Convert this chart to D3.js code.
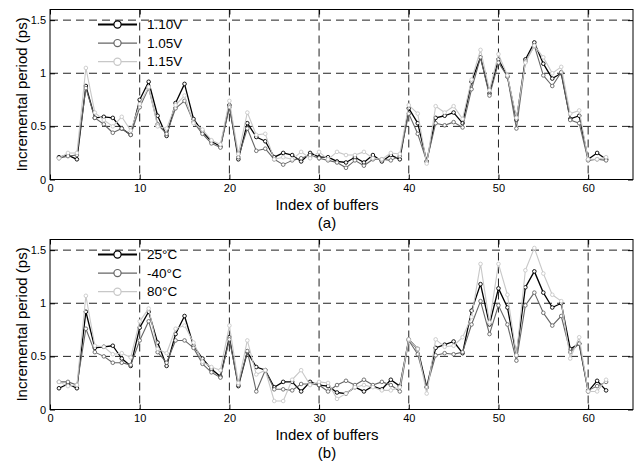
<!DOCTYPE html>
<html>
<head>
<meta charset="utf-8">
<script src="https://cdn.jsdelivr.net/npm/d3@7"></script>
<style>
  html, body { margin: 0; padding: 0; background: #fff; }
  svg { display: block; font-family: "Liberation Sans", Arial, sans-serif; }
</style>
</head>
<body>
<svg id="chart" width="641" height="462"></svg>
<script>
// Buffer indices (x axis) and tick labels
const bufferIndex = d3.range(1, 63);
const xTicks = [0, 10, 20, 30, 40, 50, 60];
const yTicks = [0, 0.5, 1, 1.5];
const yTickLabels = ["0", "0.5", "1", "1.5"];

// (a) supply voltage sweep, incremental period in ps
const v110 = [0.21,0.23,0.19,0.88,0.58,0.59,0.58,0.48,0.42,0.75,
              0.92,0.60,0.41,0.72,0.90,0.57,0.45,0.36,0.31,0.70,
              0.19,0.53,0.40,0.36,0.21,0.25,0.23,0.17,0.25,0.21,
              0.21,0.17,0.16,0.21,0.16,0.23,0.17,0.23,0.19,0.67,
              0.53,0.17,0.58,0.60,0.63,0.53,0.92,1.15,0.81,1.13,
              0.97,0.56,1.13,1.29,1.09,0.95,1.00,0.57,0.60,0.19,
              0.25,0.19];
const v105 = [0.20,0.22,0.23,0.86,0.58,0.52,0.44,0.48,0.42,0.68,
              0.86,0.52,0.43,0.67,0.74,0.54,0.43,0.34,0.30,0.68,
              0.21,0.48,0.27,0.29,0.19,0.14,0.18,0.20,0.23,0.20,
              0.18,0.16,0.11,0.18,0.13,0.19,0.19,0.18,0.22,0.62,
              0.43,0.17,0.53,0.51,0.54,0.49,0.85,1.15,0.79,1.10,
              0.97,0.48,1.11,1.26,0.98,0.88,1.01,0.56,0.53,0.18,
              0.19,0.18];
const v115 = [0.20,0.25,0.25,1.05,0.63,0.56,0.50,0.59,0.46,0.71,
              0.87,0.50,0.48,0.70,0.79,0.53,0.47,0.37,0.33,0.74,
              0.24,0.63,0.42,0.43,0.19,0.21,0.19,0.26,0.20,0.26,
              0.19,0.26,0.23,0.23,0.26,0.20,0.19,0.25,0.24,0.70,
              0.62,0.15,0.69,0.63,0.69,0.57,0.94,1.22,0.84,1.18,
              0.98,0.58,1.10,1.26,1.15,1.00,1.06,0.62,0.65,0.19,
              0.19,0.21];

// (b) temperature sweep, incremental period in ps
const t25 = [0.20,0.24,0.20,0.92,0.58,0.59,0.60,0.48,0.41,0.77,
             0.92,0.63,0.41,0.71,0.88,0.60,0.48,0.38,0.31,0.68,
             0.22,0.54,0.40,0.37,0.21,0.26,0.26,0.17,0.26,0.23,
             0.22,0.16,0.15,0.21,0.17,0.22,0.19,0.28,0.22,0.66,
             0.57,0.21,0.58,0.61,0.64,0.53,0.93,1.18,0.80,1.14,
             0.96,0.51,1.15,1.30,1.10,0.96,1.00,0.57,0.62,0.17,
             0.27,0.18];
const tm40 = [0.26,0.26,0.23,0.76,0.54,0.50,0.44,0.44,0.42,0.65,
              0.83,0.54,0.44,0.65,0.65,0.58,0.43,0.35,0.30,0.66,
              0.23,0.55,0.17,0.37,0.19,0.19,0.18,0.24,0.24,0.23,
              0.17,0.23,0.27,0.23,0.28,0.23,0.26,0.23,0.17,0.65,
              0.52,0.21,0.51,0.53,0.52,0.54,0.80,1.02,0.71,0.98,
              0.80,0.46,0.98,1.10,0.91,0.79,0.88,0.54,0.62,0.18,
              0.22,0.26];
const t80 = [0.26,0.22,0.23,1.07,0.60,0.59,0.52,0.53,0.49,0.83,
             0.95,0.57,0.53,0.76,0.79,0.63,0.45,0.40,0.37,0.79,
             0.25,0.65,0.33,0.37,0.08,0.08,0.28,0.37,0.23,0.26,
             0.25,0.10,0.15,0.21,0.23,0.21,0.18,0.18,0.21,0.66,
             0.57,0.15,0.66,0.59,0.60,0.68,0.87,1.37,0.82,1.37,
             1.08,0.51,1.31,1.52,1.28,1.08,1.02,0.48,0.68,0.17,
             0.17,0.28];

const labelsA = ["1.10V", "1.05V", "1.15V"];
const labelsB = ["25\u00B0C", "-40\u00B0C", "80\u00B0C"];

// Line styles per series slot (black, mid grey, light grey)
const styles = [
  { color: "#000000", width: 1.3, legendWidth: 1.8 },
  { color: "#666666", width: 1.1, legendWidth: 1.3 },
  { color: "#c8c8c8", width: 1.1, legendWidth: 1.3 }
];

const panels = [
  { top: 9.5,  bottom: 179.5, series: [v110, v105, v115], labels: labelsA, caption: "(a)" },
  { top: 239.5, bottom: 409.5, series: [t25, tm40, t80],   labels: labelsB, caption: "(b)" }
];

const svg = d3.select("#chart");
const left = 50, right = 633;
const x = d3.scaleLinear().domain([0, 65]).range([left, right]);

panels.forEach(p => {
  const y = d3.scaleLinear().domain([0, 1.6]).range([p.bottom, p.top]);
  const g = svg.append("g");
  const h = p.bottom - p.top, w = right - left;

  // dashed grid
  g.append("g")
    .selectAll("line.vg")
    .data(xTicks.filter(d => d > 0))
    .join("line")
    .attr("x1", d => x(d)).attr("x2", d => x(d))
    .attr("y1", p.top).attr("y2", p.bottom)
    .attr("stroke", "#222").attr("stroke-width", 1)
    .attr("stroke-dasharray", "8,5");
  g.append("g")
    .selectAll("line.hg")
    .data(yTicks.filter(d => d > 0))
    .join("line")
    .attr("x1", left).attr("x2", right)
    .attr("y1", d => y(d)).attr("y2", d => y(d))
    .attr("stroke", "#222").attr("stroke-width", 1)
    .attr("stroke-dasharray", "8,5");

  // axes with inward ticks
  const xAxis = g.append("g")
    .attr("transform", `translate(0,${p.bottom})`)
    .call(d3.axisBottom(x).tickValues(xTicks).tickSize(-5).tickPadding(5).tickFormat(d3.format("d")));
  const yAxis = g.append("g")
    .attr("transform", `translate(${left},0)`)
    .call(d3.axisLeft(y).tickValues(yTicks).tickSize(-5).tickPadding(4)
      .tickFormat((d, i) => yTickLabels[i]));
  g.append("g")
    .attr("transform", `translate(0,${p.top})`)
    .call(d3.axisTop(x).tickValues(xTicks).tickSize(-5).tickFormat(""));
  g.append("g")
    .attr("transform", `translate(${right},0)`)
    .call(d3.axisRight(y).tickValues(yTicks).tickSize(-5).tickFormat(""));
  g.selectAll(".domain").remove();
  g.selectAll(".tick line").attr("stroke", "#000");
  [xAxis, yAxis].forEach(a => a.selectAll("text")
    .attr("font-size", 11).attr("fill", "#000")
    .attr("font-family", "Liberation Sans, Arial, sans-serif"));

  // series lines and markers
  const line = d3.line().x((d, i) => x(bufferIndex[i])).y(d => y(d));
  p.series.forEach((vals, k) => {
    const s = styles[k];
    g.append("path")
      .datum(vals)
      .attr("d", line)
      .attr("fill", "none")
      .attr("stroke", s.color)
      .attr("stroke-width", s.width)
      .attr("stroke-linejoin", "round");
    g.append("g")
      .selectAll("circle")
      .data(vals)
      .join("circle")
      .attr("cx", (d, i) => x(bufferIndex[i]))
      .attr("cy", d => y(d))
      .attr("r", 1.8)
      .attr("fill", "#fff")
      .attr("stroke", s.color)
      .attr("stroke-width", 0.9);
  });

  // frame
  g.append("rect")
    .attr("x", left).attr("y", p.top)
    .attr("width", w).attr("height", h)
    .attr("fill", "none").attr("stroke", "#000").attr("stroke-width", 1);

  // legend
  const lg = g.append("g");
  p.labels.forEach((lab, k) => {
    const s = styles[k];
    const ly = p.top + 15 + k * 18.6;
    lg.append("line")
      .attr("x1", 98).attr("x2", 137).attr("y1", ly).attr("y2", ly)
      .attr("stroke", s.color).attr("stroke-width", s.legendWidth);
    lg.append("circle")
      .attr("cx", 117.5).attr("cy", ly).attr("r", 3.6)
      .attr("fill", "#fff").attr("stroke", s.color).attr("stroke-width", 1.2);
    lg.append("text")
      .attr("x", 147).attr("y", ly + 4.6)
      .attr("font-size", 13.5).attr("fill", "#000")
      .text(lab);
  });

  // axis titles and caption
  g.append("text")
    .attr("transform", `translate(22,${(p.top + p.bottom) / 2}) rotate(-90)`)
    .attr("text-anchor", "middle")
    .attr("dy", "0.35em")
    .attr("font-size", 15)
    .text("Incremental period (ps)");
  g.append("text")
    .attr("x", 327).attr("y", p.bottom + 30)
    .attr("text-anchor", "middle")
    .attr("font-size", 15)
    .text("Index of buffers");
  g.append("text")
    .attr("x", 327).attr("y", p.bottom + 48)
    .attr("text-anchor", "middle")
    .attr("font-size", 15)
    .text(p.caption);
});
</script>
</body>
</html>
